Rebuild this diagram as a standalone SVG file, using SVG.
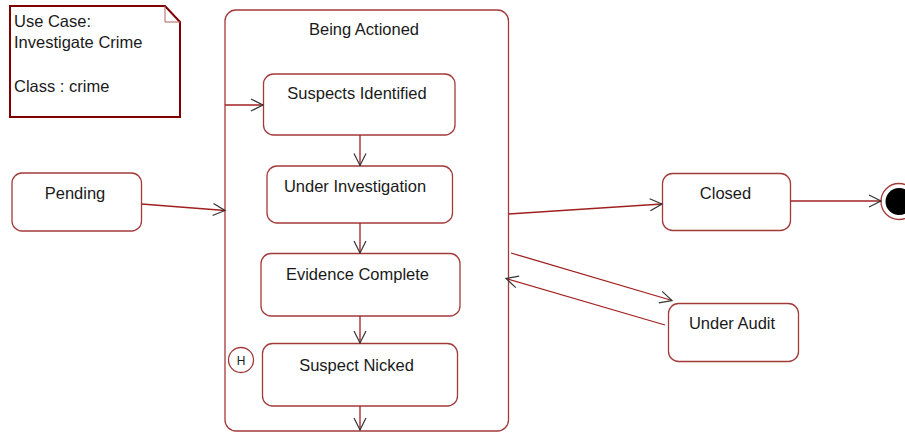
<svg xmlns="http://www.w3.org/2000/svg" width="905" height="432" viewBox="0 0 905 432">
<style>
.st{fill:#fff;stroke:#a33a3a;stroke-width:1.3}
.t{font-family:"Liberation Sans",Arial,sans-serif;font-size:16.5px;fill:#1a1a1a}
.c{text-anchor:middle}
.ln{stroke:#a02020;stroke-width:1.3;fill:none}
</style>
<defs>
<marker id="arr" markerUnits="userSpaceOnUse" markerWidth="14" markerHeight="14" refX="12" refY="6" orient="auto" overflow="visible">
<path d="M0,0 L12,6 L0,12" fill="none" stroke="#333" stroke-width="1.2"/>
</marker>
</defs>
<rect width="905" height="432" fill="#fff"/>
<g id="note">
<path d="M10,6 H165 L180,22 V117 H10 Z" fill="#fff" stroke="#800000" stroke-width="2"/>
<path d="M165,6 V22 H180" fill="none" stroke="#b06060" stroke-width="1"/>
<text class="t" x="14" y="27">Use Case:</text>
<text class="t" x="14" y="48">Investigate Crime</text>
<text class="t" x="14" y="92">Class : crime</text>
</g>
<g id="being-actioned">
<rect class="st" x="225" y="10" width="283.5" height="421" rx="11"/>
<text class="t c" x="364" y="35">Being Actioned</text>
</g>
<g id="suspects-identified">
<rect class="st" x="263.5" y="74" width="191.5" height="61" rx="10"/>
<text class="t c" x="357" y="99">Suspects Identified</text>
</g>
<g id="under-investigation">
<rect class="st" x="267" y="166" width="185.5" height="57" rx="10"/>
<text class="t c" x="355" y="192">Under Investigation</text>
</g>
<g id="evidence-complete">
<rect class="st" x="261" y="253.5" width="199" height="62.5" rx="10"/>
<text class="t c" x="357.5" y="280">Evidence Complete</text>
</g>
<g id="suspect-nicked">
<rect class="st" x="262.5" y="343.5" width="195" height="62.5" rx="10"/>
<text class="t c" x="356.5" y="371">Suspect Nicked</text>
</g>
<g id="history">
<circle cx="241" cy="360" r="12.5" fill="#fff" stroke="#a33a3a" stroke-width="1.3"/>
<text x="241" y="364.5" font-family="Liberation Sans,Arial,sans-serif" font-size="12" text-anchor="middle" fill="#1a1a1a">H</text>
</g>
<g id="pending">
<rect class="st" x="12" y="173" width="129.5" height="58" rx="10"/>
<text class="t c" x="75" y="199">Pending</text>
</g>
<g id="closed">
<rect class="st" x="662.5" y="173.5" width="128" height="57" rx="10"/>
<text class="t c" x="725.5" y="199">Closed</text>
</g>
<g id="under-audit">
<rect class="st" x="668.5" y="303.5" width="130" height="58" rx="10"/>
<text class="t c" x="732" y="328.5">Under Audit</text>
</g>
<g id="final">
<circle cx="899" cy="201.5" r="18" fill="#fff" stroke="#a33a3a" stroke-width="1.3"/>
<circle cx="899" cy="201.5" r="13.5" fill="#000"/>
</g>
<g id="connectors">
<line class="ln" x1="225" y1="105" x2="263" y2="105" marker-end="url(#arr)"/>
<line class="ln" x1="360" y1="135" x2="360" y2="165.5" marker-end="url(#arr)"/>
<line class="ln" x1="360" y1="223" x2="360" y2="253" marker-end="url(#arr)"/>
<line class="ln" x1="360" y1="316" x2="360" y2="343" marker-end="url(#arr)"/>
<line class="ln" x1="360" y1="406" x2="360" y2="430" marker-end="url(#arr)"/>
<line class="ln" x1="141.5" y1="204" x2="225" y2="210.5" marker-end="url(#arr)"/>
<line class="ln" x1="508.5" y1="214" x2="662" y2="204" marker-end="url(#arr)"/>
<line class="ln" x1="790.5" y1="201" x2="881" y2="201" marker-end="url(#arr)"/>
<line class="ln" x1="511" y1="253" x2="672" y2="300.5" marker-end="url(#arr)"/>
<line class="ln" x1="665" y1="325" x2="506" y2="278.5" marker-end="url(#arr)"/>
</g>
</svg>
